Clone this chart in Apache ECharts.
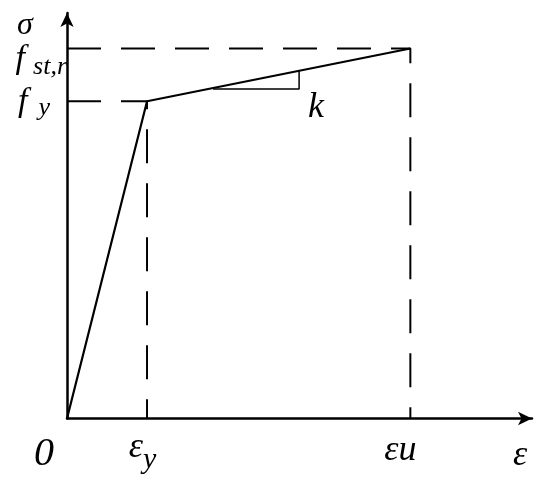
<!DOCTYPE html>
<html>
<head>
<meta charset="utf-8">
<script src="https://cdn.jsdelivr.net/npm/echarts@6/dist/echarts.min.js"></script>
<style>
  html, body { margin: 0; padding: 0; background: #fff; }
  #chart { width: 550px; height: 488px; }
</style>
</head>
<body>
<div id="chart"></div>
<script>
// 应力-应变关系（示意）：0 -> (εy, fy) -> (εu, fst,r)
const strain = [0, 1.0, 4.29]
const stress = [0, 1.0, 1.166]
// 斜率 k 的小三角
const slopeX = [1.825, 2.9, 2.9]
const slopeY = [1.0385, 1.0385, 1.095]
// 坐标轴标注
const xTickValues = [0, 1.0, 4.29]
const xTickLabels = ['0', 'εy', 'εu']
const yTickValues = [1.0, 1.166]
const yTickLabels = ['fy', 'fst,r']

const FONT = 'Liberation Serif'
const txt = (size, extra) => Object.assign(
  { fontFamily: FONT, fontStyle: 'italic', fontSize: size, color: '#000' }, extra)

const chart = echarts.init(document.getElementById('chart'))

function pts(xs, ys) {
  return xs.map((x, i) => [x, ys[i]])
}

const dash = [34, 20]
const axisLine = {
  symbol: ['none', 'arrow'],
  symbolSize: [10, 14],
  lineStyle: { color: '#000', width: 2.5 }
}

chart.setOption({
  animation: false,
  grid: { left: 67, top: 13, right: 18, bottom: 69.5, outerBoundsMode: 'none', containLabel: false },
  xAxis: {
    type: 'value',
    min: 0,
    max: 5.81,
    name: '{e|ε}',
    nameLocation: 'end',
    nameGap: -19,
    nameMoveOverlap: false,
    nameTextStyle: {
      align: 'left',
      verticalAlign: 'top',
      rich: { e: txt(36, { lineHeight: 36, verticalAlign: 'top', padding: [19, 0, 0, 0] }) }
    },
    axisLine,
    axisTick: { show: false },
    splitLine: { show: false },
    axisLabel: {
      customValues: xTickValues,
      showMinLabel: true,
      showMaxLabel: true,
      margin: 6,
      formatter: v => {
        const i = xTickValues.indexOf(v)
        const t = xTickLabels[i]
        if (i === 0) return '{zero|' + t + '}'
        if (i === 1) return '{ey|' + t[0] + '}{eySub|' + t.slice(1) + '}'
        return '{eu|' + t + '}'
      },
      rich: {
        zero: txt(40, { lineHeight: 40, verticalAlign: 'top', padding: [10, 46, 0, 0] }),
        ey: txt(36, { lineHeight: 36, verticalAlign: 'top', padding: [5, 0, 0, 0] }),
        eySub: txt(30, { lineHeight: 30, verticalAlign: 'top', padding: [21, 9, 0, 0] }),
        eu: txt(36, { lineHeight: 36, verticalAlign: 'top', padding: [8, 20, 0, 0] })
      }
    }
  },
  yAxis: {
    type: 'value',
    min: 0,
    max: 1.278,
    name: '{s|σ}',
    nameLocation: 'end',
    nameGap: 3,
    nameMoveOverlap: false,
    nameTextStyle: {
      align: 'center',
      verticalAlign: 'top',
      rich: { s: txt(32, { lineHeight: 32, verticalAlign: 'top', padding: [0, 84, 0, 0] }) }
    },
    axisLine,
    axisTick: { show: false },
    splitLine: { show: false },
    axisLabel: {
      customValues: yTickValues,
      showMinLabel: true,
      showMaxLabel: true,
      margin: 0,
      formatter: v => {
        const i = yTickValues.indexOf(v)
        const t = yTickLabels[i]
        if (i === 0) return '{fy|' + t[0] + '}{fySub|' + t.slice(1) + '}'
        return '{fs|' + t[0] + '}{fsSub|' + t.slice(1) + '}'
      },
      rich: {
        fy: txt(34, { lineHeight: 34, verticalAlign: 'top', padding: [1, 0, 0, 0] }),
        fySub: txt(26, { lineHeight: 26, verticalAlign: 'top', padding: [11, 17, 0, 11] }),
        fs: txt(34, { lineHeight: 34, verticalAlign: 'top', padding: [10.5, 0, 0, 0] }),
        fsSub: txt(26, { lineHeight: 26, verticalAlign: 'top', padding: [23, 0, 0, 8] })
      }
    }
  },
  series: [
    {
      name: 'curve',
      type: 'line',
      data: pts(strain, stress),
      symbol: 'none',
      lineStyle: { color: '#000', width: 2.2 }
    },
    {
      name: 'yield guide',
      type: 'line',
      data: [[0, stress[1]], [strain[1], stress[1]], [strain[1], 0]],
      symbol: 'none',
      lineStyle: { color: '#000', width: 2, type: dash }
    },
    {
      name: 'ultimate guide',
      type: 'line',
      data: [[0, stress[2]], [strain[2], stress[2]], [strain[2], 0]],
      symbol: 'none',
      lineStyle: { color: '#000', width: 2, type: dash }
    },
    {
      name: 'slope',
      type: 'line',
      data: pts(slopeX, slopeY).map((p, i) => i === 1
        ? {
            value: p,
            label: {
              show: true,
              formatter: 'k',
              position: 'inside',
              offset: [17, 19],
              ...txt(36)
            }
          }
        : p),
      symbol: 'circle',
      symbolSize: 0,
      showSymbol: true,
      label: { show: false },
      lineStyle: { color: '#000', width: 1.5 }
    }
  ]
})
</script>
</body>
</html>
